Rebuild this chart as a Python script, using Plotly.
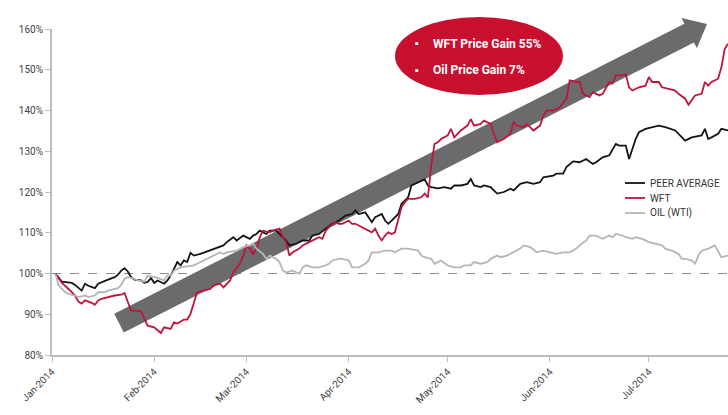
import plotly.graph_objects as go
import math

# ---------------- data ----------------
peer_dates = ["2014-01-02","2014-01-04","2014-01-07","2014-01-08","2014-01-10","2014-01-11","2014-01-12","2014-01-14",
"2014-01-15","2014-01-16","2014-01-18","2014-01-20","2014-01-21","2014-01-22","2014-01-23","2014-01-24","2014-01-25",
"2014-01-26","2014-01-28","2014-01-29","2014-01-30","2014-01-31","2014-02-01","2014-02-02","2014-02-04","2014-02-05",
"2014-02-06","2014-02-08","2014-02-09","2014-02-10","2014-02-11","2014-02-12","2014-02-13","2014-02-15","2014-02-17",
"2014-02-19","2014-02-21","2014-02-22","2014-02-23","2014-02-25","2014-02-26","2014-02-28","2014-03-02","2014-03-03",
"2014-03-04","2014-03-05","2014-03-07","2014-03-08","2014-03-10","2014-03-11","2014-03-13","2014-03-14","2014-03-16",
"2014-03-18","2014-03-20","2014-03-21","2014-03-23","2014-03-25","2014-03-27","2014-03-29","2014-03-31","2014-04-02",
"2014-04-03","2014-04-04","2014-04-06","2014-04-07","2014-04-08","2014-04-09","2014-04-11","2014-04-12","2014-04-13",
"2014-04-14","2014-04-16","2014-04-17","2014-04-19","2014-04-20","2014-04-22","2014-04-24","2014-04-25","2014-04-26",
"2014-04-28","2014-04-30","2014-05-02","2014-05-03","2014-05-05","2014-05-07","2014-05-08","2014-05-09","2014-05-11",
"2014-05-12","2014-05-14","2014-05-16","2014-05-18","2014-05-20","2014-05-21","2014-05-23","2014-05-25","2014-05-27",
"2014-05-29","2014-05-30","2014-06-02","2014-06-03","2014-06-05","2014-06-06","2014-06-08","2014-06-10","2014-06-12",
"2014-06-14","2014-06-15","2014-06-17","2014-06-19","2014-06-20","2014-06-21","2014-06-22","2014-06-24","2014-06-25",
"2014-06-26","2014-06-27","2014-06-28","2014-06-30","2014-07-04","2014-07-06","2014-07-09","2014-07-10","2014-07-12",
"2014-07-14","2014-07-17","2014-07-18","2014-07-19","2014-07-20","2014-07-22","2014-07-23","2014-07-25"]
peer_values = [100,98.0,97.7,97.2,95.8,97.5,97.0,96.4,
97.5,97.9,98.5,99.1,99.7,100.7,101.3,100.5,99.1,
98.5,98.3,97.7,97.9,98.9,97.7,98.3,97.5,98.3,
99.5,102.8,102.0,103.2,102.8,105.1,104.4,104.8,105.4,
105.9,106.5,106.9,107.7,108.9,108.1,109.3,108.5,109.3,
109.7,110.5,109.7,110.5,110.5,109.7,108.1,106.9,107.3,
108.1,108.1,109.3,109.7,111.0,112.2,113.0,114.2,114.6,
115.5,114.6,115.0,113.8,112.6,113.8,114.6,113.0,112.2,
113.0,114.6,117.1,118.7,121.6,122.4,123.1,121.6,121.2,
120.9,121.2,120.8,121.6,121.6,122.0,123.2,121.6,121.2,
121.6,121.2,119.6,120.0,120.8,120.4,122.0,122.4,122.0,
122.4,123.6,124.0,124.5,124.5,126.1,127.5,127.3,128.1,
126.9,127.3,128.5,129.0,130.6,131.8,131.4,131.4,128.1,
130.6,133.0,134.7,135.5,136.3,135.9,135.1,134.3,132.6,
133.4,133.9,135.5,133.0,133.4,134.3,135.5,135.1]

wft_dates = ["2014-01-02","2014-01-04","2014-01-06","2014-01-08","2014-01-09","2014-01-10","2014-01-11","2014-01-13",
"2014-01-14","2014-01-15","2014-01-16","2014-01-18","2014-01-20","2014-01-22","2014-01-23","2014-01-24","2014-01-25",
"2014-01-26","2014-01-28","2014-01-29","2014-01-30","2014-02-01","2014-02-02","2014-02-03","2014-02-04","2014-02-06",
"2014-02-07","2014-02-08","2014-02-10","2014-02-11","2014-02-12","2014-02-13","2014-02-14","2014-02-16","2014-02-18",
"2014-02-19","2014-02-21","2014-02-22","2014-02-24","2014-02-25","2014-02-27","2014-02-28","2014-03-01","2014-03-02",
"2014-03-03","2014-03-04","2014-03-05","2014-03-06","2014-03-08","2014-03-09","2014-03-11","2014-03-12","2014-03-13",
"2014-03-14","2014-03-15","2014-03-17","2014-03-18","2014-03-20","2014-03-21","2014-03-23","2014-03-24","2014-03-25",
"2014-03-26","2014-03-28","2014-03-29","2014-03-30","2014-04-01","2014-04-02","2014-04-03","2014-04-05","2014-04-06",
"2014-04-08","2014-04-09","2014-04-10","2014-04-11","2014-04-12","2014-04-13","2014-04-14","2014-04-15","2014-04-17",
"2014-04-18","2014-04-19","2014-04-21","2014-04-23","2014-04-24","2014-04-25","2014-04-26","2014-04-27","2014-04-28",
"2014-04-29","2014-05-01","2014-05-02","2014-05-03","2014-05-05","2014-05-07","2014-05-08","2014-05-09","2014-05-11",
"2014-05-12","2014-05-14","2014-05-15","2014-05-16","2014-05-18","2014-05-20","2014-05-21","2014-05-22","2014-05-24",
"2014-05-25","2014-05-27","2014-05-29","2014-05-30","2014-05-31","2014-06-02","2014-06-04","2014-06-06","2014-06-07",
"2014-06-09","2014-06-10","2014-06-11","2014-06-13","2014-06-14","2014-06-16","2014-06-17","2014-06-19","2014-06-20",
"2014-06-21","2014-06-23","2014-06-24","2014-06-25","2014-06-26","2014-06-28","2014-06-30","2014-07-01","2014-07-02",
"2014-07-04","2014-07-05","2014-07-07","2014-07-09","2014-07-10","2014-07-12","2014-07-13","2014-07-14","2014-07-15",
"2014-07-17","2014-07-18","2014-07-19","2014-07-20","2014-07-22","2014-07-23","2014-07-24","2014-07-25"]
wft_values = [100,97.7,96.2,94.6,93.1,92.6,93.4,92.8,
92.3,93.4,93.8,94.2,94.6,94.8,95.2,93.0,90.9,
90.9,90.7,88.9,87.2,86.8,86.0,85.4,86.8,86.4,
88.0,87.7,88.7,88.7,90.1,93.0,95.4,95.8,96.2,
97.1,97.5,96.6,98.3,100.3,102.4,104.4,106.9,106.1,
104.8,106.1,108.9,110.5,110.1,110.5,111.0,108.9,107.7,
104.4,105.2,106.1,106.9,107.7,108.1,108.9,108.5,110.5,
111.4,112.6,112.2,112.2,113.0,112.2,112.2,111.4,111.0,
110.1,111.0,109.3,108.1,109.3,110.1,109.7,110.1,116.3,
117.5,118.3,118.3,118.7,119.6,118.7,126.5,131.8,132.2,
133.0,133.9,135.5,133.4,135.1,136.3,137.9,136.3,136.7,
137.5,136.7,134.3,132.2,133.0,134.3,137.1,136.3,135.9,
136.7,135.1,136.3,138.8,140.0,140.0,140.8,142.9,147.4,
147.0,147.0,144.1,143.3,144.5,143.7,144.1,147.0,146.6,
148.6,148.6,148.8,145.7,144.9,145.7,146.1,148.2,147.0,
147.0,145.7,145.3,144.9,144.1,142.9,141.4,142.5,143.7,
144.1,147.0,146.1,147.0,147.8,150.6,155.1,156.4]

oil_dates = ["2014-01-02","2014-01-03","2014-01-05","2014-01-06","2014-01-08","2014-01-09","2014-01-11","2014-01-12",
"2014-01-14","2014-01-15","2014-01-17","2014-01-18","2014-01-20","2014-01-21","2014-01-22","2014-01-23","2014-01-24",
"2014-01-26","2014-01-27","2014-01-29","2014-01-30","2014-02-01","2014-02-02","2014-02-04","2014-02-05","2014-02-06",
"2014-02-07","2014-02-09","2014-02-11","2014-02-13","2014-02-14","2014-02-16","2014-02-18","2014-02-19","2014-02-21",
"2014-02-22","2014-02-23","2014-02-26","2014-02-28","2014-03-02","2014-03-03","2014-03-04","2014-03-06","2014-03-07",
"2014-03-08","2014-03-10","2014-03-11","2014-03-12","2014-03-13","2014-03-15","2014-03-16","2014-03-17","2014-03-18",
"2014-03-19","2014-03-21","2014-03-23","2014-03-25","2014-03-26","2014-03-27","2014-03-29","2014-03-30","2014-04-01",
"2014-04-02","2014-04-04","2014-04-06","2014-04-07","2014-04-08","2014-04-10","2014-04-12","2014-04-14","2014-04-15",
"2014-04-17","2014-04-19","2014-04-22","2014-04-23","2014-04-24","2014-04-26","2014-04-27","2014-04-29","2014-05-01",
"2014-05-03","2014-05-05","2014-05-06","2014-05-08","2014-05-09","2014-05-11","2014-05-13","2014-05-14","2014-05-16",
"2014-05-17","2014-05-19","2014-05-21","2014-05-23","2014-05-24","2014-05-26","2014-05-28","2014-05-30","2014-06-01",
"2014-06-03","2014-06-05","2014-06-07","2014-06-09","2014-06-10","2014-06-12","2014-06-13","2014-06-15","2014-06-16",
"2014-06-17","2014-06-19","2014-06-20","2014-06-21","2014-06-23","2014-06-24","2014-06-26","2014-06-27","2014-06-29",
"2014-07-01","2014-07-03","2014-07-05","2014-07-06","2014-07-08","2014-07-10","2014-07-11","2014-07-12","2014-07-14",
"2014-07-15","2014-07-16","2014-07-17","2014-07-19","2014-07-21","2014-07-22","2014-07-23","2014-07-25"]
oil_values = [100,97.1,95.4,95.0,94.6,94.2,94.6,94.2,
94.6,95.4,95.4,95.8,96.2,96.4,97.2,98.7,99.1,
98.7,98.3,98.0,99.5,99.1,98.9,98.3,99.5,99.5,
100.7,101.5,101.8,102.0,102.4,103.2,104.0,104.6,105.2,
104.8,105.2,105.6,106.5,106.9,107.3,106.1,104.8,103.6,
104.4,103.6,102.8,100.7,100.3,100.7,100.3,99.9,101.5,
102.0,101.5,101.5,102.0,102.4,103.2,103.6,103.6,103.2,
101.5,101.5,102.4,103.2,105.2,105.2,105.6,105.6,105.2,
106.1,106.1,105.6,104.4,104.0,103.6,102.4,103.2,102.0,
101.5,101.5,102.0,102.0,102.8,102.4,102.8,103.6,104.4,
104.0,104.4,105.2,106.1,106.9,106.5,105.2,105.6,105.2,
104.8,105.2,105.2,106.1,106.9,108.1,109.3,109.3,108.9,
108.5,109.3,108.9,109.7,109.3,108.9,108.5,108.9,108.5,
107.7,107.3,106.9,106.1,105.6,104.8,103.6,103.6,103.2,
102.4,104.4,105.6,106.1,106.9,105.6,104.0,104.4]

series_names = ["PEER AVERAGE", "WFT", "OIL (WTI)"]
callout_lines = ["WFT Price Gain 55%", "Oil Price Gain 7%"]
y_ticks = [80, 90, 100, 110, 120, 130, 140, 150, 160]

# ---------------- layout constants ----------------
W, H = 728, 415
ML, MR, MT, MB = 52, 0, 29, 60
PW, PH = W - ML - MR, H - MT - MB
RED = "#c8102e"
FONT = "Roboto, 'Open Sans', sans-serif"


def px2paper(px, py):
    return (px - ML) / PW, (H - MB - py) / PH


fig = go.Figure()
colors = ["#141414", "#c0143c", "#b5b5b5"]
for name, xs, ys, c in zip(series_names, [peer_dates, wft_dates, oil_dates],
                           [peer_values, wft_values, oil_values], colors):
    fig.add_trace(go.Scatter(x=xs, y=ys, mode="lines", name=name, showlegend=False,
                             line=dict(color=c, width=1.8)))

# 100% dashed reference line
fig.add_shape(type="line", xref="paper", x0=0, x1=1, yref="y", y0=100, y1=100,
              line=dict(color="#8c8c8c", width=1, dash="dash"), layer="below")

# big grey arrow (decoration), built in pixel space
T = (119, 323)
P = (707, 24)
dx, dy = P[0] - T[0], P[1] - T[1]
L = math.hypot(dx, dy)
ux, uy = dx / L, dy / L
nx, ny = -uy, ux
w, hw, hl = 10.5, 17, 20
B = (P[0] - hl * ux, P[1] - hl * uy)
pts = [
    (T[0] - w * nx, T[1] - w * ny),
    (B[0] - w * nx, B[1] - w * ny),
    (B[0] - hw * nx, B[1] - hw * ny),
    P,
    (B[0] + hw * nx, B[1] + hw * ny),
    (B[0] + w * nx, B[1] + w * ny),
    (T[0] + w * nx, T[1] + w * ny),
]
path = "M " + " L ".join("%.4f,%.4f" % px2paper(*p) for p in pts) + " Z"
fig.add_shape(type="path", xref="paper", yref="paper", path=path,
              fillcolor="#6b6b6b", line=dict(width=0), layer="below")

# red callout ellipse
ex0, ey0 = px2paper(395, 17)
ex1, ey1 = px2paper(563, 95)
fig.add_shape(type="circle", xref="paper", yref="paper", x0=ex0, x1=ex1, y0=ey1, y1=ey0,
              fillcolor=RED, line=dict(width=0), layer="above")
for i, txt in enumerate(callout_lines):
    py = 44 + i * 26
    bx, by = px2paper(417, py)
    tx, ty = px2paper(431, py)
    fig.add_annotation(xref="paper", yref="paper", x=bx, y=by, text="▪", showarrow=False,
                       xanchor="center", yanchor="middle",
                       font=dict(family=FONT, size=11, color="white"))
    fig.add_annotation(xref="paper", yref="paper", x=tx, y=ty, text="<b>%s</b>" % txt,
                       showarrow=False, xanchor="left", yanchor="middle",
                       font=dict(family=FONT, size=12, color="white"))

# compact legend (line sample + label), matching the reference spacing
for i, (name, c) in enumerate(zip(series_names, colors)):
    py = 183 + i * 15
    x0, y0 = px2paper(625, py)
    x1, _ = px2paper(645, py)
    fig.add_shape(type="line", xref="paper", yref="paper", x0=x0, x1=x1, y0=y0, y1=y0,
                  line=dict(color=c, width=1.8))
    tx, _ = px2paper(648, py)
    fig.add_annotation(xref="paper", yref="paper", x=tx, y=y0, text=name, showarrow=False,
                       xanchor="left", yanchor="middle",
                       font=dict(family=FONT, size=10, color="#333333"))

fig.update_layout(
    width=W, height=H,
    margin=dict(l=ML, r=MR, t=MT, b=MB, autoexpand=False),
    paper_bgcolor="white", plot_bgcolor="white",
    font=dict(family=FONT, size=10, color="#333333"),
    showlegend=False,
    xaxis=dict(range=["2014-01-01", "2014-07-25"], tick0="2014-01-01", dtick="M1",
               tickformat="%b-%Y", tickangle=-45, showgrid=False, zeroline=False,
               showline=True, linecolor="#bdbdbd", linewidth=2, automargin=False,
               ticks="outside", ticklen=5, tickcolor="#bdbdbd",
               tickfont=dict(family=FONT, size=10, color="#444444")),
    yaxis=dict(range=[80, 160], tickvals=y_ticks, ticktext=["%d%%" % v for v in y_ticks],
               showgrid=False, zeroline=False, showline=True, linecolor="#bdbdbd", linewidth=2,
               automargin=False, ticks="outside", ticklen=5, tickcolor="#bdbdbd",
               tickfont=dict(family=FONT, size=10, color="#444444")),
)

fig.write_html("out.html", config={"displayModeBar": False},
               post_script="document.body.style.margin='0';")
